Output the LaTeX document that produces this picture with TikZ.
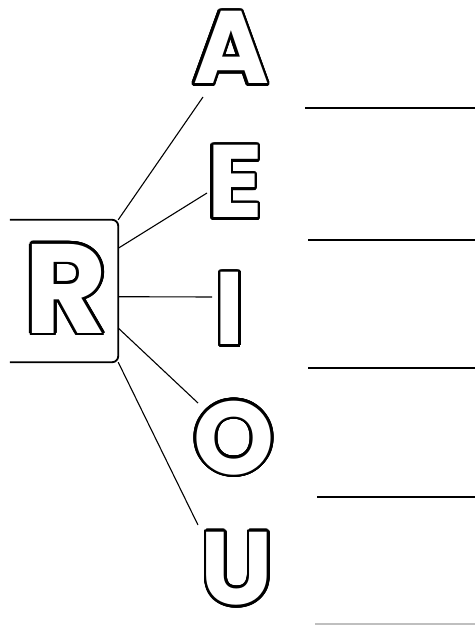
\documentclass[tikz,border=0pt]{standalone}
\usepackage{fontspec}
\usepackage{contour}
\usetikzlibrary{calc}
\newfontfamily\letterfont{Poppins}
\contourlength{2.6pt}
\contournumber{32}

\begin{document}
\begin{tikzpicture}[
    x=1pt, y=-1pt,
    letter/.style={inner sep=0pt, text=white,
                font=\letterfont\bfseries\fontsize{103}{108}\selectfont},
    bigletter/.style={letter, font=\letterfont\bfseries\fontsize{127}{132}\selectfont},
    link/.style={line width=1.1pt},
    frame/.style={line width=1.8pt, rounded corners=6pt},
    rule/.style={line width=2.4pt}
]
\useasboundingbox (0,0) rectangle (475,626);

\node[minimum width=108pt, minimum height=142pt, inner sep=0pt] (Rbox) at (64,291) {};
\node[bigletter] (R) at (66,290) {\contour{black}{R}};

\node[letter] (A) at (231,49) {\contour{black}{A}};
\node[letter] (E) at (235,183) {\contour{black}{E}};
\node[letter] (I) at (230,310) {\contour{black}{I}};
\node[letter] (O) at (234,439) {\contour{black}{O}};
\node[letter] (U) at (237,570) {\contour{black}{U}};

\draw[frame] (Rbox.north west) -- (Rbox.north east) -- (Rbox.south east) -- (Rbox.south west);

\draw[link] (Rbox.north east) -- ([shift={(-28,48)}]A.center);
\draw[link] ($(Rbox.north east)!0.2!(Rbox.south east)$) -- ([shift={(-28,10)}]E.center);
\draw[link] ($(Rbox.north east)!0.54!(Rbox.south east)$) -- ([shift={(-18,-13)}]I.center);
\draw[link] ($(Rbox.north east)!0.76!(Rbox.south east)$) -- ([shift={(-36,-36)}]O.center);
\draw[link] (Rbox.south east) -- ([shift={(-39,-45)}]U.center);

% lines to write on
\draw[rule] (305,108) coordinate (r1) -- (475,108);
\draw[rule] (308,240) coordinate (r2) -- (475,240);
\draw[rule] (308,368) coordinate (r3) -- (475,368);
\draw[rule] (317,497) coordinate (r4) -- (475,497);
\draw[rule, black!25] (315,624) coordinate (r5) -- (475,624);

\end{tikzpicture}
\end{document}
